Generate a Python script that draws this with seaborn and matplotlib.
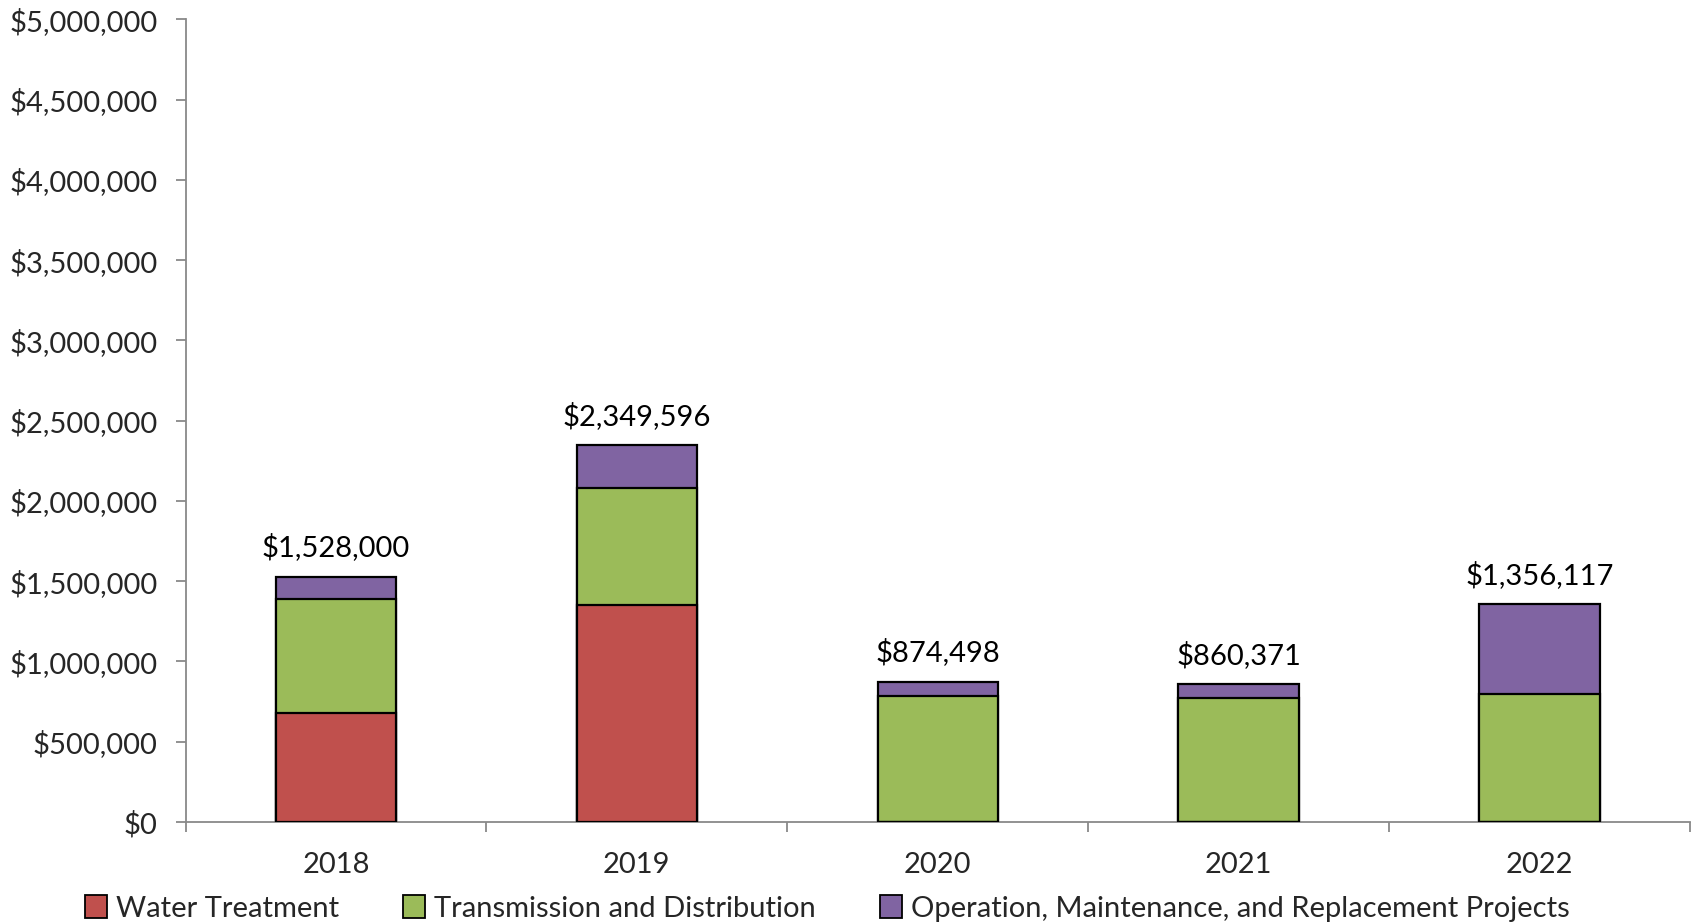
import matplotlib
matplotlib.use("Agg")
import matplotlib.pyplot as plt
import seaborn as sns
import pandas as pd
from matplotlib.ticker import FuncFormatter, FixedLocator
from matplotlib.patches import Patch

# Capital project spending by category and year
years = ["2018", "2019", "2020", "2021", "2022"]
water_treatment = [681000, 1351000, 0, 0, 0]
transmission_distribution = [706000, 731000, 785000, 775000, 796000]
operation_maintenance = [141000, 267596, 89498, 85371, 560117]
total_labels = ["$1,528,000", "$2,349,596", "$874,498", "$860,371", "$1,356,117"]

series_names = ["Water Treatment", "Transmission and Distribution",
                "Operation, Maintenance, and Replacement Projects"]
colors = ["#C0504D", "#9BBB59", "#8064A2"]

df = pd.DataFrame({
    "year": years,
    "wt": water_treatment,
    "td": transmission_distribution,
    "om": operation_maintenance,
})
df["lvl1"] = df["wt"]
df["lvl2"] = df["wt"] + df["td"]
df["lvl3"] = df["lvl2"] + df["om"]

sns.set_style("white")
plt.rcParams["font.family"] = ["Lato", "DejaVu Sans"]
FS = 21

fig = plt.figure(figsize=(16.92, 9.24), dpi=100)
ax = fig.add_axes([0.1097, 0.1104, 0.889, 0.8686])

# stacked bars: draw cumulative heights from tallest to shortest
for col, c, z in [("lvl3", colors[2], 2), ("lvl2", colors[1], 3), ("lvl1", colors[0], 4)]:
    sns.barplot(data=df, x="year", y=col, color=c, width=0.4, edgecolor="black",
                linewidth=1.6, saturation=1, ax=ax, zorder=z, errorbar=None)

ax.set_xlim(-0.5, 4.5)
ax.set_ylim(0, 5000000)
ax.set_yticks(range(0, 5000001, 500000))
ax.yaxis.set_major_formatter(FuncFormatter(lambda v, p: f"${v:,.0f}"))
ax.set_xlabel("")
ax.set_ylabel("")

# total labels above each bar
for i, (tot, lab) in enumerate(zip(df["lvl3"], total_labels)):
    ax.annotate(lab, (i, tot), xytext=(0, 11), textcoords="offset points",
                ha="center", va="bottom", fontsize=FS, color="black")

for s in ["top", "right"]:
    ax.spines[s].set_visible(False)
for s in ["left", "bottom"]:
    ax.spines[s].set_color("#898989")
    ax.spines[s].set_linewidth(1.3)

ax.tick_params(axis="y", which="major", left=True, length=7, width=1.3,
               color="#898989", labelsize=FS, pad=13, direction="out")
ax.tick_params(axis="x", which="major", bottom=False, labelsize=FS, pad=18)
ax.xaxis.set_minor_locator(FixedLocator([-0.5, 0.5, 1.5, 2.5, 3.5, 4.5]))
ax.tick_params(axis="x", which="minor", bottom=True, length=7, width=1.3,
               color="#898989", direction="out")

handles = [Patch(facecolor=c, edgecolor="black", linewidth=1.3) for c in colors]
fig.legend(handles, series_names, loc="center", bbox_to_anchor=(0.489, 0.017),
           ncol=3, frameon=False, fontsize=FS, handlelength=0.75, handleheight=0.85,
           handletextpad=0.3, columnspacing=2.2, borderpad=0)

fig.savefig("out.png", dpi=100)
